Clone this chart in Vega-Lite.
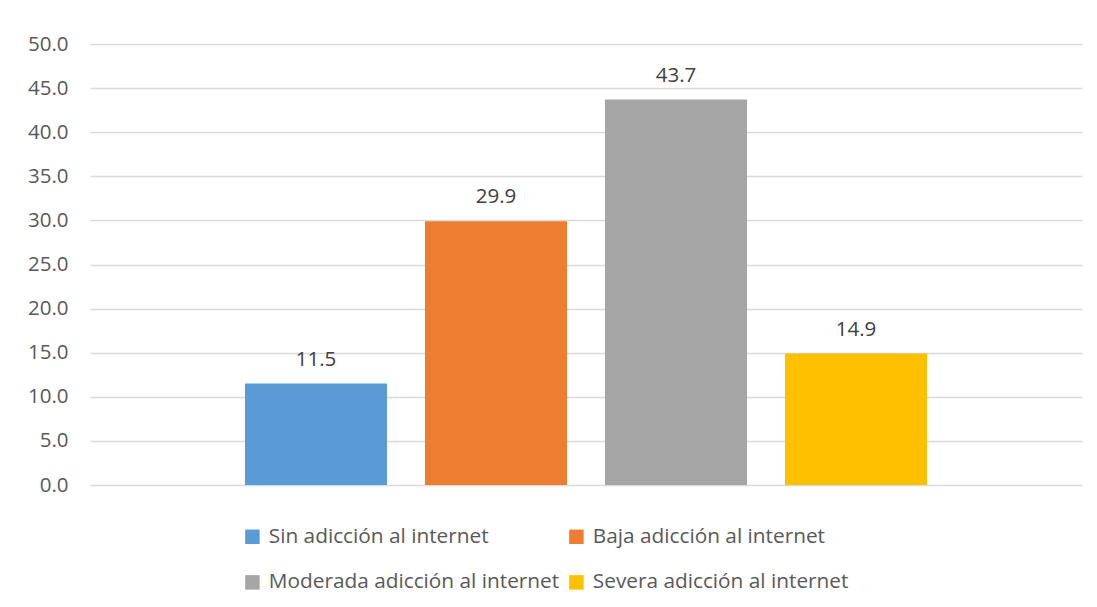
{
  "$schema": "https://vega.github.io/schema/vega-lite/v6.json",
  "autosize": {"type": "none"},
  "width": 992,
  "height": 441,
  "padding": {"left": 90, "top": 44, "right": 15, "bottom": 122},
  "background": "white",
  "config": {
    "view": {"stroke": null},
    "font": "Open Sans",
    "text": {"font": "Open Sans"}
  },
  "data": {
    "values": [
      {"serie": "Sin adicción al internet", "valor": 11.5},
      {"serie": "Baja adicción al internet", "valor": 29.9},
      {"serie": "Moderada adicción al internet", "valor": 43.7},
      {"serie": "Severa adicción al internet", "valor": 14.9}
    ]
  },
  "encoding": {
    "x": {
      "field": "serie",
      "type": "nominal",
      "sort": null,
      "scale": {"paddingInner": 0.211, "paddingOuter": 0.861},
      "axis": null
    },
    "y": {
      "field": "valor",
      "type": "quantitative",
      "scale": {"domain": [0, 50], "nice": false},
      "axis": {
        "values": [0, 5, 10, 15, 20, 25, 30, 35, 40, 45, 50],
        "format": ".1f",
        "title": null,
        "domain": false,
        "ticks": false,
        "grid": true,
        "gridColor": "#d9d9d9",
        "gridWidth": 1.5,
        "labelColor": "#595959",
        "labelFontSize": 20.5,
        "labelFont": "Open Sans",
        "labelPadding": 22
      }
    }
  },
  "layer": [
    {
      "mark": {"type": "bar"},
      "encoding": {
        "color": {
          "field": "serie",
          "type": "nominal",
          "sort": null,
          "scale": {
            "domain": ["Sin adicción al internet", "Baja adicción al internet", "Moderada adicción al internet", "Severa adicción al internet"],
            "range": ["#5B9BD5", "#ED7D31", "#A5A5A5", "#FFC000"]
          },
          "legend": {
            "title": null,
            "orient": "none",
            "legendX": 152,
            "legendY": 482,
            "direction": "horizontal",
            "columns": 2,
            "columnPadding": 6,
            "rowPadding": 24,
            "symbolType": "square",
            "symbolSize": 210,
            "symbolStrokeWidth": 0,
            "labelFontSize": 20.8,
            "labelFont": "Open Sans",
            "labelColor": "#595959",
            "labelOffset": 6,
            "labelLimit": 400
          }
        }
      }
    },
    {
      "mark": {"type": "text", "baseline": "middle", "dy": -24, "fontSize": 20.5, "color": "#404040", "font": "Open Sans"},
      "encoding": {
        "text": {"field": "valor", "type": "quantitative", "format": ".1f"}
      }
    }
  ]
}
